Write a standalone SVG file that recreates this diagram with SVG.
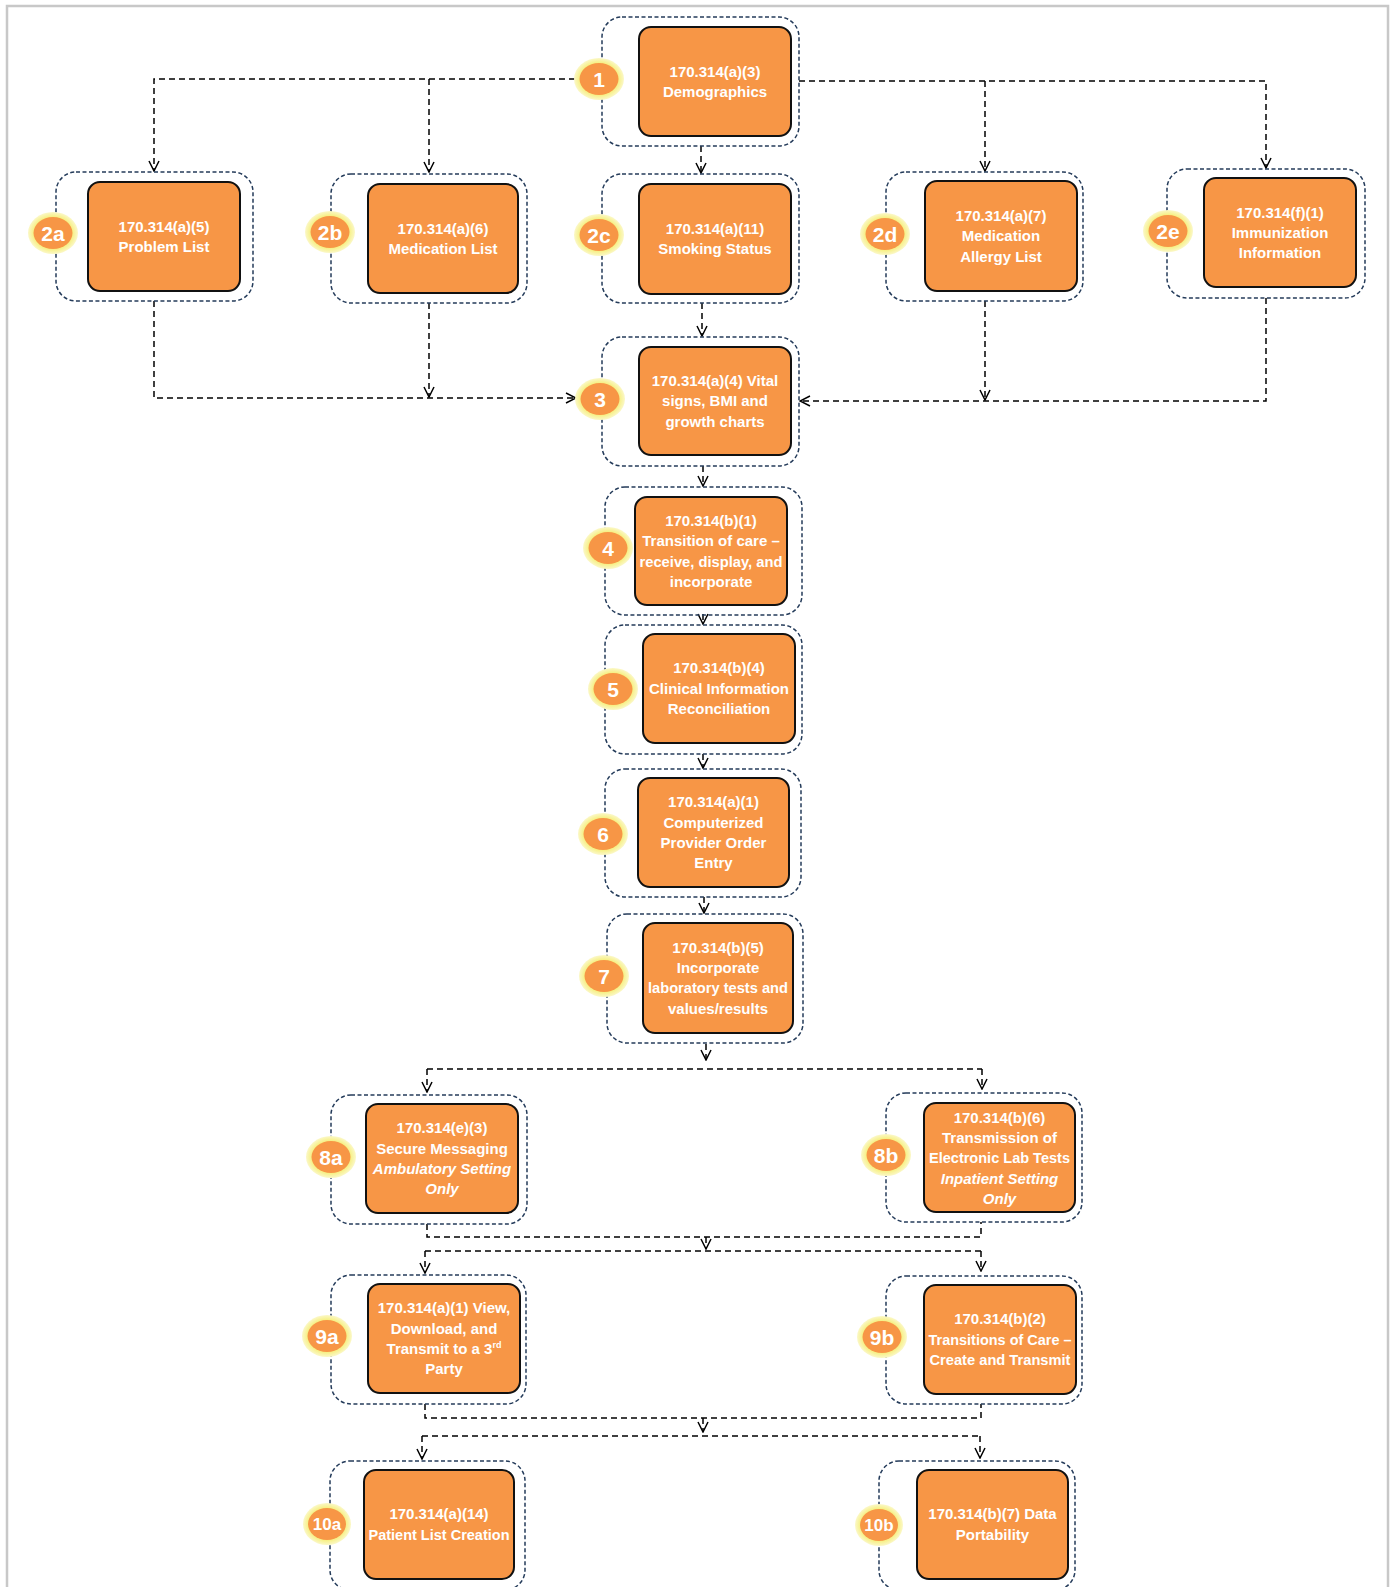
<svg xmlns="http://www.w3.org/2000/svg" width="1394" height="1587" viewBox="0 0 1394 1587">
<defs>
<marker id="arr" markerUnits="userSpaceOnUse" viewBox="0 0 12 12" refX="11" refY="6" markerWidth="12" markerHeight="12" orient="auto">
<path d="M1,1 L11,6 L1,11" fill="none" stroke="#000" stroke-width="1.5"/>
</marker>
<radialGradient id="ring" cx="0.5" cy="0.5" r="0.5">
<stop offset="0.75" stop-color="#f6ef7e"/>
<stop offset="1" stop-color="#fbf8c8"/>
</radialGradient>
</defs>
<style>
.grp{fill:none;stroke:#243b5a;stroke-width:1.5;stroke-dasharray:4 2.5}
.box{fill:#f79646;stroke:#111;stroke-width:2}
.t{font-family:"Liberation Sans",Arial,sans-serif;font-weight:bold;font-size:15px;fill:#fff;text-anchor:middle}
.it{font-style:italic}
.ring{fill:url(#ring)}
.bin{fill:#f79646}
.bt{font-family:"Liberation Sans",Arial,sans-serif;font-weight:bold;font-size:21px;fill:#fff;text-anchor:middle}
.bs{font-size:17px}
.c{fill:none;stroke:#000;stroke-width:1.5;stroke-dasharray:6 4}
</style>
<rect x="7" y="6" width="1381" height="1620" fill="none" stroke="#c8c8c8" stroke-width="2.5"/>

<g id="connectors">
<path class="c" d="M575,79 H154 V171" marker-end="url(#arr)"/>
<path class="c" d="M429,79 V172" marker-end="url(#arr)"/>
<path class="c" d="M799,81 H1266 V168" marker-end="url(#arr)"/>
<path class="c" d="M985,81 V171" marker-end="url(#arr)"/>
<path class="c" d="M701,146 V173" marker-end="url(#arr)"/>
<path class="c" d="M154,301 V398 H576" marker-end="url(#arr)"/>
<path class="c" d="M429,303 V397" marker-end="url(#arr)"/>
<path class="c" d="M1266,298 V401 H800" marker-end="url(#arr)"/>
<path class="c" d="M985,301 V400" marker-end="url(#arr)"/>
<path class="c" d="M702,303 V336" marker-end="url(#arr)"/>
<path class="c" d="M703,466 V486" marker-end="url(#arr)"/>
<path class="c" d="M703,614 V624" marker-end="url(#arr)"/>
<path class="c" d="M703,754 V768" marker-end="url(#arr)"/>
<path class="c" d="M704,897 V913" marker-end="url(#arr)"/>
<path class="c" d="M706,1044 V1060" marker-end="url(#arr)"/>
<path class="c" d="M427,1069 H982"/>
<path class="c" d="M427,1069 V1092" marker-end="url(#arr)"/>
<path class="c" d="M982,1069 V1089" marker-end="url(#arr)"/>
<path class="c" d="M427,1224 V1237 H981 V1222"/>
<path class="c" d="M706,1237 V1249" marker-end="url(#arr)"/>
<path class="c" d="M425,1251 H981"/>
<path class="c" d="M425,1251 V1273" marker-end="url(#arr)"/>
<path class="c" d="M981,1251 V1271" marker-end="url(#arr)"/>
<path class="c" d="M425,1404 V1418 H981 V1404"/>
<path class="c" d="M703,1418 V1432" marker-end="url(#arr)"/>
<path class="c" d="M422,1436 H980"/>
<path class="c" d="M422,1436 V1459" marker-end="url(#arr)"/>
<path class="c" d="M980,1436 V1458" marker-end="url(#arr)"/>
</g>

<g id="n1">
<rect class="grp" x="602" y="17" width="197" height="129" rx="20"/>
<rect class="box" x="639" y="27" width="152" height="109" rx="12"/>
<text class="t" x="715" y="77">170.314(a)(3)</text>
<text class="t" x="715" y="97">Demographics</text>
<ellipse class="ring" cx="599" cy="79" rx="25" ry="21"/><ellipse class="bin" cx="599" cy="79" rx="19.5" ry="16"/>
<text class="bt" x="599" y="86.5">1</text>
</g>

<g id="n2a">
<rect class="grp" x="56" y="172" width="197" height="129" rx="20"/>
<rect class="box" x="88" y="182" width="152" height="109" rx="12"/>
<text class="t" x="164" y="232">170.314(a)(5)</text>
<text class="t" x="164" y="252">Problem List</text>
<ellipse class="ring" cx="53" cy="233" rx="25" ry="21"/><ellipse class="bin" cx="53" cy="233" rx="19.5" ry="16"/>
<text class="bt" x="53" y="240.5">2a</text>
</g>

<g id="n2b">
<rect class="grp" x="331" y="174" width="196" height="129" rx="20"/>
<rect class="box" x="368" y="184" width="150" height="109" rx="12"/>
<text class="t" x="443" y="234">170.314(a)(6)</text>
<text class="t" x="443" y="254">Medication List</text>
<ellipse class="ring" cx="330" cy="232" rx="25" ry="21"/><ellipse class="bin" cx="330" cy="232" rx="19.5" ry="16"/>
<text class="bt" x="330" y="239.5">2b</text>
</g>

<g id="n2c">
<rect class="grp" x="602" y="174" width="197" height="129" rx="20"/>
<rect class="box" x="639" y="184" width="152" height="110" rx="12"/>
<text class="t" x="715" y="234">170.314(a)(11)</text>
<text class="t" x="715" y="254">Smoking Status</text>
<ellipse class="ring" cx="599" cy="235" rx="25" ry="21"/><ellipse class="bin" cx="599" cy="235" rx="19.5" ry="16"/>
<text class="bt" x="599" y="242.5">2c</text>
</g>

<g id="n2d">
<rect class="grp" x="886" y="172" width="197" height="129" rx="20"/>
<rect class="box" x="925" y="181" width="152" height="110" rx="12"/>
<text class="t" x="1001" y="221">170.314(a)(7)</text>
<text class="t" x="1001" y="241">Medication</text>
<text class="t" x="1001" y="261.5">Allergy List</text>
<ellipse class="ring" cx="885" cy="234" rx="25" ry="21"/><ellipse class="bin" cx="885" cy="234" rx="19.5" ry="16"/>
<text class="bt" x="885" y="241.5">2d</text>
</g>

<g id="n2e">
<rect class="grp" x="1167" y="169" width="198" height="129" rx="20"/>
<rect class="box" x="1204" y="178" width="152" height="109" rx="12"/>
<text class="t" x="1280" y="217.5">170.314(f)(1)</text>
<text class="t" x="1280" y="238">Immunization</text>
<text class="t" x="1280" y="258">Information</text>
<ellipse class="ring" cx="1168" cy="231" rx="25" ry="21"/><ellipse class="bin" cx="1168" cy="231" rx="19.5" ry="16"/>
<text class="bt" x="1168" y="238.5">2e</text>
</g>

<g id="n3">
<rect class="grp" x="602" y="337" width="197" height="129" rx="20"/>
<rect class="box" x="639" y="347" width="152" height="108" rx="12"/>
<text class="t" x="715" y="386">170.314(a)(4) Vital</text>
<text class="t" x="715" y="406">signs, BMI and</text>
<text class="t" x="715" y="426.5">growth charts</text>
<ellipse class="ring" cx="600" cy="399" rx="25" ry="21"/><ellipse class="bin" cx="600" cy="399" rx="19.5" ry="16"/>
<text class="bt" x="600" y="406.5">3</text>
</g>

<g id="n4">
<rect class="grp" x="605" y="487" width="197" height="128" rx="20"/>
<rect class="box" x="635" y="497" width="152" height="108" rx="12"/>
<text class="t" x="711" y="525.5">170.314(b)(1)</text>
<text class="t" x="711" y="546">Transition of care –</text>
<text class="t" x="711" y="566.5" textLength="143" lengthAdjust="spacingAndGlyphs">receive, display, and</text>
<text class="t" x="711" y="587">incorporate</text>
<ellipse class="ring" cx="608" cy="548" rx="25" ry="21"/><ellipse class="bin" cx="608" cy="548" rx="19.5" ry="16"/>
<text class="bt" x="608" y="555.5">4</text>
</g>

<g id="n5">
<rect class="grp" x="605" y="625" width="197" height="129" rx="20"/>
<rect class="box" x="643" y="634" width="152" height="109" rx="12"/>
<text class="t" x="719" y="673">170.314(b)(4)</text>
<text class="t" x="719" y="693.5">Clinical Information</text>
<text class="t" x="719" y="713.5">Reconciliation</text>
<ellipse class="ring" cx="613" cy="689" rx="25" ry="21"/><ellipse class="bin" cx="613" cy="689" rx="19.5" ry="16"/>
<text class="bt" x="613" y="696.5">5</text>
</g>

<g id="n6">
<rect class="grp" x="605" y="769" width="196" height="128" rx="20"/>
<rect class="box" x="638" y="778" width="151" height="109" rx="12"/>
<text class="t" x="713.5" y="807">170.314(a)(1)</text>
<text class="t" x="713.5" y="827.5">Computerized</text>
<text class="t" x="713.5" y="848">Provider Order</text>
<text class="t" x="713.5" y="868">Entry</text>
<ellipse class="ring" cx="603" cy="834" rx="25" ry="21"/><ellipse class="bin" cx="603" cy="834" rx="19.5" ry="16"/>
<text class="bt" x="603" y="841.5">6</text>
</g>

<g id="n7">
<rect class="grp" x="607" y="914" width="196" height="129" rx="20"/>
<rect class="box" x="643" y="923" width="150" height="110" rx="12"/>
<text class="t" x="718" y="952.5">170.314(b)(5)</text>
<text class="t" x="718" y="973">Incorporate</text>
<text class="t" x="718" y="993" textLength="140" lengthAdjust="spacingAndGlyphs">laboratory tests and</text>
<text class="t" x="718" y="1013.5">values/results</text>
<ellipse class="ring" cx="604" cy="976" rx="25" ry="21"/><ellipse class="bin" cx="604" cy="976" rx="19.5" ry="16"/>
<text class="bt" x="604" y="983.5">7</text>
</g>

<g id="n8a">
<rect class="grp" x="331" y="1095" width="196" height="129" rx="20"/>
<rect class="box" x="366" y="1104" width="152" height="109" rx="12"/>
<text class="t" x="442" y="1133">170.314(e)(3)</text>
<text class="t" x="442" y="1153.5">Secure Messaging</text>
<text class="t it" x="442" y="1174">Ambulatory Setting</text>
<text class="t it" x="442" y="1194">Only</text>
<ellipse class="ring" cx="331" cy="1157" rx="25" ry="21"/><ellipse class="bin" cx="331" cy="1157" rx="19.5" ry="16"/>
<text class="bt" x="331" y="1164.5">8a</text>
</g>

<g id="n8b">
<rect class="grp" x="886" y="1093" width="196" height="129" rx="20"/>
<rect class="box" x="924" y="1103" width="151" height="109" rx="12"/>
<text class="t" x="999.5" y="1122.5">170.314(b)(6)</text>
<text class="t" x="999.5" y="1143">Transmission of</text>
<text class="t" x="999.5" y="1163" textLength="141" lengthAdjust="spacingAndGlyphs">Electronic Lab Tests</text>
<text class="t it" x="999.5" y="1183.5">Inpatient Setting</text>
<text class="t it" x="999.5" y="1203.5">Only</text>
<ellipse class="ring" cx="886" cy="1155" rx="25" ry="21"/><ellipse class="bin" cx="886" cy="1155" rx="19.5" ry="16"/>
<text class="bt" x="886" y="1162.5">8b</text>
</g>

<g id="n9a">
<rect class="grp" x="331" y="1275" width="195" height="129" rx="20"/>
<rect class="box" x="368" y="1284" width="152" height="109" rx="12"/>
<text class="t" x="444" y="1313">170.314(a)(1) View,</text>
<text class="t" x="444" y="1333.5">Download, and</text>
<text class="t" x="444" y="1354">Transmit to a 3<tspan font-size="9" dy="-6">rd</tspan></text>
<text class="t" x="444" y="1374">Party</text>
<ellipse class="ring" cx="327" cy="1336" rx="25" ry="21"/><ellipse class="bin" cx="327" cy="1336" rx="19.5" ry="16"/>
<text class="bt" x="327" y="1343.5">9a</text>
</g>

<g id="n9b">
<rect class="grp" x="886" y="1276" width="196" height="128" rx="20"/>
<rect class="box" x="924" y="1285" width="152" height="109" rx="12"/>
<text class="t" x="1000" y="1324">170.314(b)(2)</text>
<text class="t" x="1000" y="1344.5" textLength="143" lengthAdjust="spacingAndGlyphs">Transitions of Care –</text>
<text class="t" x="1000" y="1364.5" textLength="141" lengthAdjust="spacingAndGlyphs">Create and Transmit</text>
<ellipse class="ring" cx="882" cy="1337" rx="25" ry="21"/><ellipse class="bin" cx="882" cy="1337" rx="19.5" ry="16"/>
<text class="bt" x="882" y="1344.5">9b</text>
</g>

<g id="n10a">
<rect class="grp" x="330" y="1461" width="195" height="129" rx="20"/>
<rect class="box" x="364" y="1470" width="150" height="109" rx="12"/>
<text class="t" x="439" y="1519">170.314(a)(14)</text>
<text class="t" x="439" y="1539.5" textLength="141" lengthAdjust="spacingAndGlyphs">Patient List Creation</text>
<ellipse class="ring" cx="327" cy="1524" rx="24" ry="21"/><ellipse class="bin" cx="327" cy="1524" rx="19" ry="16"/>
<text class="bt bs" x="327" y="1530">10a</text>
</g>

<g id="n10b">
<rect class="grp" x="879" y="1461" width="196" height="129" rx="20"/>
<rect class="box" x="917" y="1470" width="151" height="109" rx="12"/>
<text class="t" x="992.5" y="1519">170.314(b)(7) Data</text>
<text class="t" x="992.5" y="1539.5">Portability</text>
<ellipse class="ring" cx="879" cy="1525" rx="24" ry="21"/><ellipse class="bin" cx="879" cy="1525" rx="19" ry="16"/>
<text class="bt bs" x="879" y="1531">10b</text>
</g>
</svg>
